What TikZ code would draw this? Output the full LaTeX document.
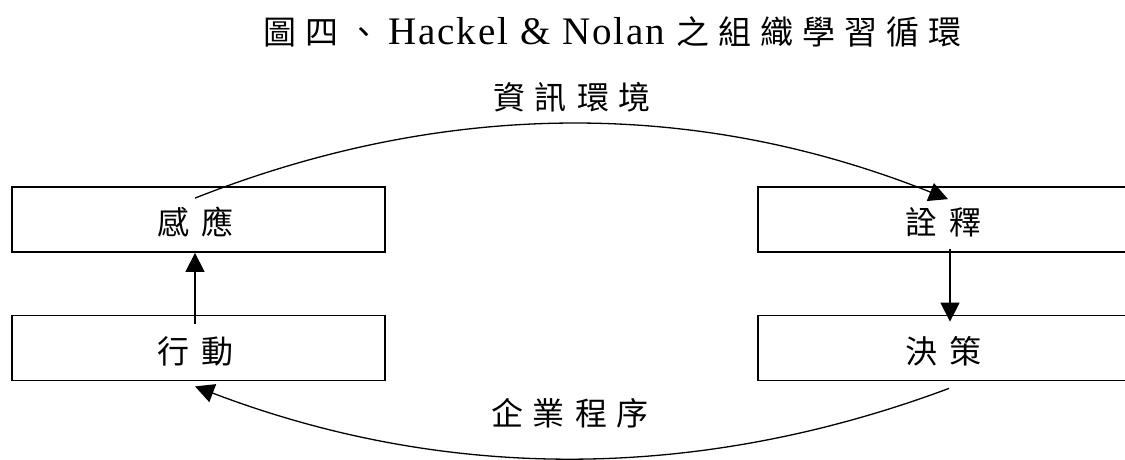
\documentclass[tikz,border=0pt]{standalone}
\usepackage{fontspec}
\setmainfont{Liberation Serif}
\newfontfamily\cjk{Noto Sans CJK TC}
\newfontfamily\spacedlatin[LetterSpace=5]{Liberation Serif}
\usetikzlibrary{arrows.meta,calc}
% spacing between CJK characters
\newcommand\cg[1][10pt]{\hspace{#1}}
\begin{document}
\begin{tikzpicture}[x=1pt,y=-1pt,
  txt/.style={font=\fontsize{32pt}{38pt}\selectfont, inner sep=0pt},
  headline/.style={font=\fontsize{33pt}{40pt}\selectfont, inner sep=0pt},
  stagebox/.style={draw, line width=1.8pt, minimum height=65pt, inner sep=0pt},
  conn/.style={line width=1.3pt, -{Triangle[length=19pt,width=19pt]}}]
  \useasboundingbox (0,0) rectangle (1125,460);

  % headings
  \node[headline, anchor=west] (title) at (263,32)
    {{\cjk 圖\cg[9pt]四\cg[9pt]、}\cg[8pt]{\fontsize{39pt}{40pt}\spacedlatin Hackel \& Nolan}\cg[11pt]{\cjk 之\cg[9pt]組\cg[9pt]織\cg[9pt]學\cg[9pt]習\cg[9pt]循\cg[9pt]環}};
  \node[txt] (env) at (572,97) {\cjk 資\cg 訊\cg 環\cg 境};
  \node[txt] (proc) at (570,413) {\cjk 企\cg 業\cg 程\cg 序};

  % four stages of the cycle
  \node[stagebox, minimum width=373pt] (sense)  at (198.5,219.5) {};
  \node[stagebox, minimum width=373pt] (act)    at (198.5,348)   {};
  \node[stagebox, minimum width=370pt] (interp) at (943,219.5)   {};
  \node[stagebox, minimum width=370pt] (decide) at (943,348)     {};
  \node[txt] (senseT)  at ([xshift=-3pt,yshift=-3pt]sense.center)  {\cjk 感\cg[12pt]應};
  \node[txt] (actT)    at ([xshift=-3pt,yshift=-3pt]act.center)    {\cjk 行\cg[12pt]動};
  \node[txt] (interpT) at ([yshift=-3pt]interp.center) {\cjk 詮\cg[12pt]釋};
  \node[txt] (decideT) at ([yshift=-3pt]decide.center) {\cjk 決\cg[12pt]策};

  % connectors
  \draw[conn] ([xshift=-3.5pt,yshift=-12pt]sense.north)
     .. controls (446,99) and (697,99) .. ([xshift=5pt,yshift=-13pt]interp.north);
  \draw[conn] ([xshift=7pt,yshift=4pt]interp.south) -- ([xshift=7pt,yshift=-7pt]decide.north);
  \draw[conn] ([xshift=6pt,yshift=-7pt]decide.south)
     .. controls (698,482) and (446,482) .. ([xshift=-3.5pt,yshift=-5pt]act.south);
  \draw[conn] ([xshift=-3.5pt,yshift=-9pt]act.north) -- ([xshift=-3.5pt]sense.south);
\end{tikzpicture}
\end{document}
